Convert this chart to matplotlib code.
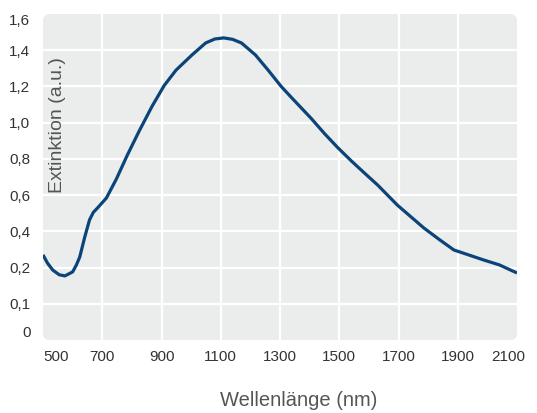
import numpy as np
import matplotlib
matplotlib.use("Agg")
import matplotlib.pyplot as plt
from matplotlib.patches import FancyBboxPatch
from matplotlib.transforms import ScaledTranslation

plt.rcParams['font.family'] = ['Liberation Sans', 'DejaVu Sans']

wavelength = [500, 515, 533, 555, 574, 600, 612, 624, 641, 657, 670, 684, 714,
              748, 785, 825, 868, 909, 949, 1003, 1049, 1080, 1110, 1140, 1170,
              1217, 1260, 1304, 1338, 1405, 1450, 1495, 1540, 1585, 1630, 1696,
              1786, 1840, 1887, 1940, 1987, 2040, 2100]
extinction = [0.270, 0.225, 0.193, 0.180, 0.177, 0.188, 0.212, 0.258, 0.369,
              0.463, 0.505, 0.529, 0.584, 0.690, 0.822, 0.955, 1.090, 1.205,
              1.290, 1.374, 1.440, 1.462, 1.468, 1.460, 1.440, 1.374, 1.290,
              1.200, 1.140, 1.024, 0.940, 0.862, 0.790, 0.722, 0.655, 0.545,
              0.418, 0.352, 0.297, 0.268, 0.242, 0.215, 0.185]
x_ticks = [500, 700, 900, 1100, 1300, 1500, 1700, 1900, 2100]
y_ticks = [0, 0.1, 0.2, 0.4, 0.6, 0.8, 1.0, 1.2, 1.4, 1.6]
y_ticklabels = ['0', '0,1', '0,2', '0,4', '0,6', '0,8', '1,0', '1,2', '1,4', '1,6']


def fwd(v):
    v = np.asarray(v, dtype=float)
    return np.where(v <= 0.2, v * 10.0, 2.0 + (v - 0.2) * 5.0)


def inv(p):
    p = np.asarray(p, dtype=float)
    return np.where(p <= 2.0, p / 10.0, 0.2 + (p - 2.0) / 5.0)


W, H = 537, 413
fig = plt.figure(figsize=(W / 100, H / 100), dpi=100)
ax = fig.add_axes([43 / W, (H - 340) / H, 474 / W, 326 / H])
ax.set_facecolor('none')

# rounded background
bg = FancyBboxPatch((43 / 100, (H - 340) / 100), 474 / 100, 326 / 100,
                    boxstyle="round,pad=0,rounding_size=0.07",
                    transform=fig.dpi_scale_trans, facecolor='#ebecec',
                    edgecolor='none', zorder=0, clip_on=False)
ax.add_artist(bg)

ax.set_yscale('function', functions=(fwd, inv))
ax.set_xlim(500, 2100)
ax.set_ylim(0, 1.6)

for xv in x_ticks[1:-1]:
    ax.axvline(xv, color='white', lw=1.6, zorder=1)
for yv in y_ticks[1:-1]:
    ax.axhline(yv, color='white', lw=1.6, zorder=1)

ax.plot(wavelength, extinction, color='#0a4479', lw=2.3, zorder=3,
        solid_capstyle='butt', solid_joinstyle='round')

for s in ax.spines.values():
    s.set_visible(False)

ax.set_xticks(x_ticks)
ax.set_xticklabels([str(v) for v in x_ticks])
ax.set_yticks(y_ticks)
ax.set_yticklabels(y_ticklabels)
ax.tick_params(length=0, labelsize=11, colors='#333333', labelcolor='#333333')
ax.tick_params(axis='x', pad=7)
ax.tick_params(axis='y', pad=9)

xl = ax.get_xticklabels()
xl[0].set_ha('left')
xl[-1].set_transform(xl[-1].get_transform() + ScaledTranslation(-0.09, 0, fig.dpi_scale_trans))
yl = ax.get_yticklabels()
yl[0].set_va('bottom')
yl[-1].set_va('top')

fig.text(299 / W, 1 - 400 / H, 'Wellenlänge (nm)', ha='center', va='center',
         fontsize=14.5, color='#555555')
fig.text(57 / W, 1 - 125 / H, 'Extinktion (a.u.)', ha='center', va='center',
         rotation=90, fontsize=14, color='#555555', zorder=5)

fig.savefig('out.png', dpi=100)
